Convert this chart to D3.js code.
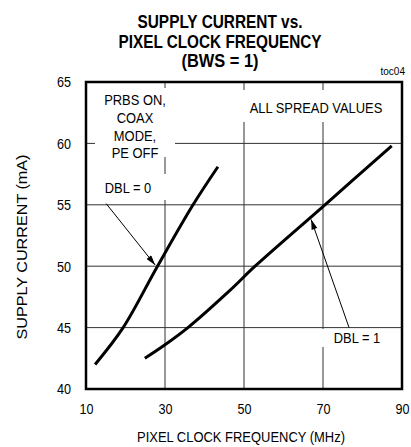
<!DOCTYPE html>
<html>
<head>
<meta charset="utf-8">
<script src="https://cdn.jsdelivr.net/npm/d3@7"></script>
<style>
  body { margin: 0; background: #fff; }
  svg { display: block; font-family: "Liberation Sans", Arial, sans-serif; }
</style>
</head>
<body>
<svg id="chart" width="411" height="447"></svg>
<script>
// Chart values
const xTicks = [10, 30, 50, 70, 90];
const yTicks = [40, 45, 50, 55, 60, 65];
const titleLines = ["SUPPLY CURRENT vs.", "PIXEL CLOCK FREQUENCY", "(BWS = 1)"];
const dbl0 = [[12.3, 42.0], [19.4, 45.0], [28.1, 50.0], [37.1, 55.0], [43.4, 58.1]];
const dbl1 = [[24.9, 42.5], [30, 43.6], [35.8, 45.0], [46.5, 48.05], [52.8, 50.0], [70.5, 55.0], [87.4, 59.8]];
// annotation arrows: [tail, tip] in data units
const arrow0 = [[15.1, 55.1], [27.5, 50.1]];
const arrow1 = [[76.6, 45.0], [67.0, 53.8]];

let margin = {left: 86, top: 82, right: 9, bottom: 58};
let width = 411, height = 447;

let svg = d3.select("#chart");

let x = d3.scaleLinear().domain([10, 90]).range([margin.left, width - margin.right]);
let y = d3.scaleLinear().domain([40, 65]).range([height - margin.bottom, margin.top]);

// Squeeze text horizontally to imitate a narrow face
function condense(sel, k) {
  sel.each(function() {
    let w = this.getComputedTextLength();
    d3.select(this)
      .attr("textLength", w * k)
      .attr("lengthAdjust", "spacingAndGlyphs");
  });
}

// Title
svg.append("g")
    .attr("font-weight", "bold")
    .attr("font-size", "18.5px")
    .attr("text-anchor", "middle")
  .selectAll("text")
  .data(titleLines)
  .join("text")
    .attr("x", 220)
    .attr("y", (d, i) => 28 + i * 19.5)
    .attr("textLength", (d, i) => [165, 203, 77][i])
    .attr("lengthAdjust", "spacingAndGlyphs")
    .text(d => d);

svg.append("text")
    .attr("x", 405).attr("y", 75)
    .attr("text-anchor", "end")
    .attr("font-size", "10px")
    .text("toc04");

// Grid
let grid = svg.append("g").attr("stroke", "#333").attr("stroke-width", 1);
grid.selectAll(".gx")
  .data(xTicks.slice(1, -1))
  .join("line")
    .attr("x1", d => x(d)).attr("x2", d => x(d))
    .attr("y1", y(40)).attr("y2", y(65));
grid.selectAll(".gy")
  .data(yTicks.slice(1, -1))
  .join("line")
    .attr("y1", d => y(d)).attr("y2", d => y(d))
    .attr("x1", x(10)).attr("x2", x(90));

// White boxes behind in-plot labels
let boxes = [
  [95, 88, 80, 69],
  [100, 174, 70, 26],
  [240, 90, 150, 32],
  [318, 329, 70, 18]
];
svg.append("g").selectAll("rect")
  .data(boxes)
  .join("rect")
    .attr("x", d => d[0]).attr("y", d => d[1])
    .attr("width", d => d[2]).attr("height", d => d[3])
    .attr("fill", "#fff");

// Frame
svg.append("rect")
    .attr("x", x(10)).attr("y", y(65))
    .attr("width", x(90) - x(10)).attr("height", y(40) - y(65))
    .attr("fill", "none")
    .attr("stroke", "#000")
    .attr("stroke-width", 2.5);

// Axis tick labels
let xAxis = d3.axisBottom(x).tickValues(xTicks).tickSize(0).tickPadding(14);
svg.append("g")
    .attr("transform", `translate(0,${y(40)})`)
    .call(xAxis)
    .call(g => g.select(".domain").remove())
    .call(g => g.selectAll("text")
      .attr("font-size", "15px").attr("font-family", null).attr("fill", "#000")
      .call(condense, 0.84));

let yAxis = d3.axisLeft(y).tickValues(yTicks).tickSize(0).tickPadding(15);
svg.append("g")
    .attr("transform", `translate(${x(10)},0)`)
    .call(yAxis)
    .call(g => g.select(".domain").remove())
    .call(g => g.selectAll("text")
      .attr("font-size", "15px").attr("font-family", null).attr("fill", "#000")
      .call(condense, 0.84));

// Axis titles
svg.append("text")
    .attr("x", 241).attr("y", 442)
    .attr("text-anchor", "middle")
    .attr("font-size", "15px")
    .attr("textLength", 208)
    .attr("lengthAdjust", "spacingAndGlyphs")
    .text("PIXEL CLOCK FREQUENCY (MHz)");

svg.append("text")
    .attr("transform", "translate(27,247) rotate(-90)")
    .attr("text-anchor", "middle")
    .attr("font-size", "15.5px")
    .attr("textLength", 185)
    .attr("lengthAdjust", "spacingAndGlyphs")
    .text("SUPPLY CURRENT (mA)");

// Curves
let line = d3.line().x(d => x(d[0])).y(d => y(d[1])).curve(d3.curveCatmullRom);
svg.append("g")
    .attr("fill", "none")
    .attr("stroke", "#000")
    .attr("stroke-width", 3)
  .selectAll("path")
  .data([dbl0, dbl1])
  .join("path")
    .attr("d", line);

// Arrows
svg.append("defs").append("marker")
    .attr("id", "head")
    .attr("viewBox", "0 0 10 6")
    .attr("refX", 10).attr("refY", 3)
    .attr("markerWidth", 11).attr("markerHeight", 6)
    .attr("markerUnits", "userSpaceOnUse")
    .attr("orient", "auto")
  .append("path")
    .attr("d", "M0,0L10,3L0,6Z")
    .attr("fill", "#000");

svg.append("g")
    .attr("stroke", "#000")
    .attr("stroke-width", 1)
  .selectAll("line")
  .data([arrow0, arrow1])
  .join("line")
    .attr("x1", d => x(d[0][0])).attr("y1", d => y(d[0][1]))
    .attr("x2", d => x(d[1][0])).attr("y2", d => y(d[1][1]))
    .attr("marker-end", "url(#head)");

// In-plot labels
let labels = [
  {t: "PRBS ON,", x: 135, y: 105},
  {t: "COAX", x: 135, y: 123},
  {t: "MODE,", x: 135, y: 140.5},
  {t: "PE OFF", x: 135, y: 158},
  {t: "DBL = 0", x: 128, y: 193},
  {t: "ALL SPREAD VALUES", x: 316, y: 113},
  {t: "DBL = 1", x: 357, y: 343}
];
svg.append("g")
    .attr("font-size", "15px")
    .attr("text-anchor", "middle")
  .selectAll("text")
  .data(labels)
  .join("text")
    .attr("x", d => d.x).attr("y", d => d.y)
    .text(d => d.t)
    .call(condense, 0.86);
</script>
</body>
</html>
